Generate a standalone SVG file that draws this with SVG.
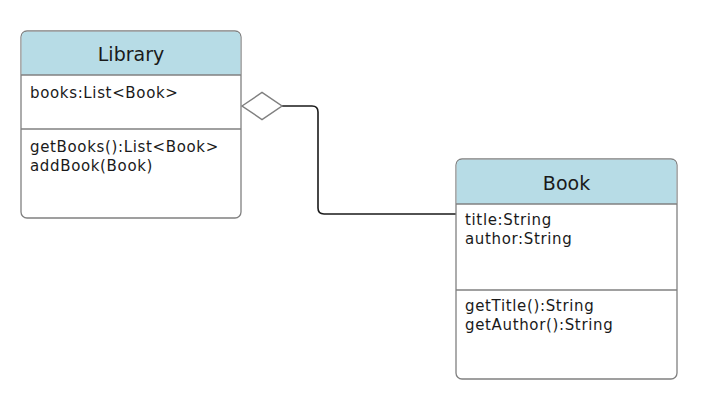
<svg xmlns="http://www.w3.org/2000/svg" width="720" height="409" viewBox="0 0 720 409">
<style>
.box{fill:#fff;stroke:#808080;stroke-width:1.3}
.hdr{fill:#b7dce6}
.div{stroke:#808080;stroke-width:1.3}
.t{font-family:"DejaVu Sans",Verdana,sans-serif;font-size:15px;letter-spacing:0.65px;fill:#1a1a1a}
.ti{font-family:"DejaVu Sans",Verdana,sans-serif;font-size:19px;fill:#1a1a1a;text-anchor:middle}
</style>
<rect width="720" height="409" fill="#fff"/>
<g id="connectors">
<path d="M282 106 H312 Q318 106 318 112 V208 Q318 214 324 214 H456" fill="none" stroke="#1a1a1a" stroke-width="1.6"/>
<polygon points="242,106 262,92.5 282,106 262,119.5" fill="#fff" stroke="#808080" stroke-width="1.5"/>
</g>
<g id="Library">
<rect class="box" x="21" y="31" width="220" height="187" rx="6"/>
<path class="hdr" d="M21.7 75 V37 Q21.7 31.7 27 31.7 H235 Q240.3 31.7 240.3 37 V75 Z"/>
<path d="M21 75 H241" class="div"/>
<path d="M21 129 H241" class="div"/>
<text class="ti" x="131" y="61">Library</text>
<text class="t" x="30" y="98">books:List&lt;Book&gt;</text>
<text class="t" x="30" y="152">getBooks():List&lt;Book&gt;</text>
<text class="t" x="30" y="171">addBook(Book)</text>
</g>
<g id="Book">
<rect class="box" x="456" y="159" width="221" height="220" rx="6"/>
<path class="hdr" d="M456.7 204 V165 Q456.7 159.7 462 159.7 H671 Q676.3 159.7 676.3 165 V204 Z"/>
<path d="M456 204 H677" class="div"/>
<path d="M456 290 H677" class="div"/>
<text class="ti" x="566.5" y="190">Book</text>
<text class="t" x="465" y="225">title:String</text>
<text class="t" x="465" y="244">author:String</text>
<text class="t" x="465" y="311">getTitle():String</text>
<text class="t" x="465" y="330">getAuthor():String</text>
</g>
</svg>
